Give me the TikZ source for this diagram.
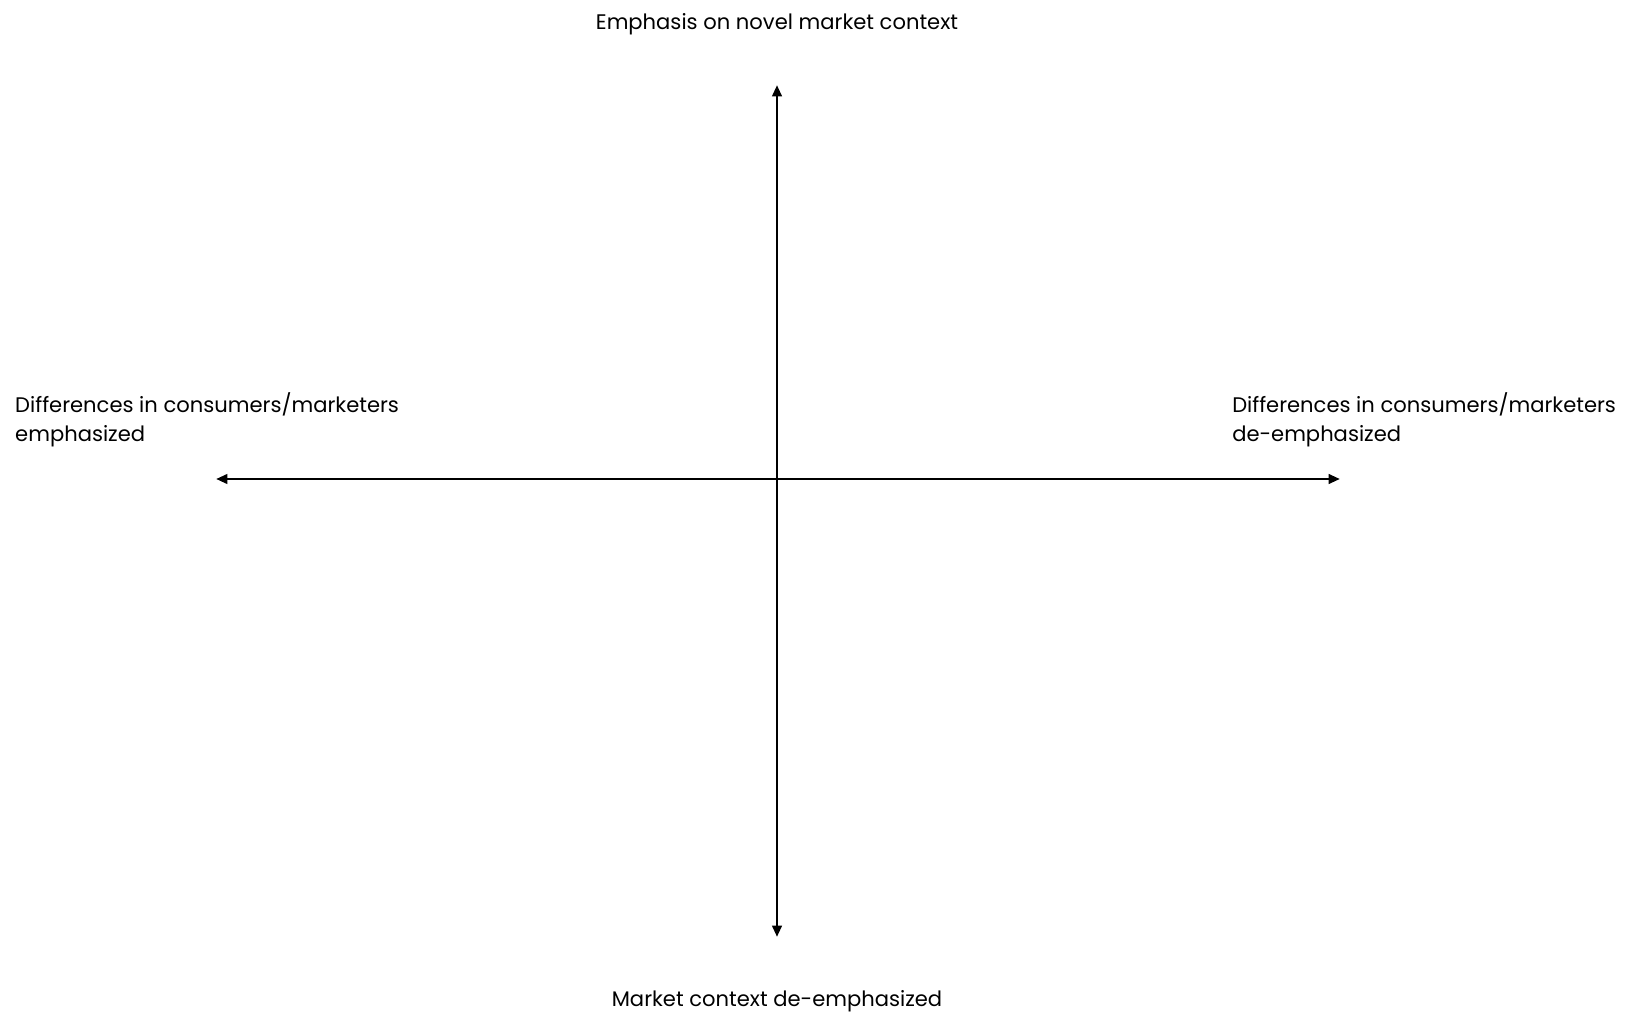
\documentclass[tikz,border=0pt]{standalone}
\usepackage{fontspec}
\setmainfont{Poppins}
\usetikzlibrary{arrows.meta}
\begin{document}
\begin{tikzpicture}[x=0.3mm,y=-0.3mm,
  axis/.style={line width=2.4pt,{Triangle[length=3.4mm,width=2.8mm]}-{Triangle[length=3.4mm,width=2.8mm]}},
  lbl/.style={inner sep=0pt,align=left,font=\fontsize{18}{24.7}\selectfont}]
  \useasboundingbox (0,0) rectangle (1633,1018);
  % axis ends
  \coordinate (top) at (777,85);
  \coordinate (bot) at (777,937);
  \coordinate (lft) at (216,479);
  \coordinate (rgt) at (1340,479);
  \draw[axis] (bot) -- (top);
  \draw[axis] (lft) -- (rgt);
  % labels
  \node[lbl,anchor=base] (ntop) at (777,30) {Emphasis on novel market context};
  \node[lbl,anchor=base] (nbot) at (777,1006) {Market context de-emphasized};
  \node[lbl,anchor=base west] (nlft) at (15,441) {Differences in consumers/marketers\\emphasized};
  \node[lbl,anchor=base west] (nrgt) at (1232,441) {Differences in consumers/marketers\\de-emphasized};
\end{tikzpicture}
\end{document}
